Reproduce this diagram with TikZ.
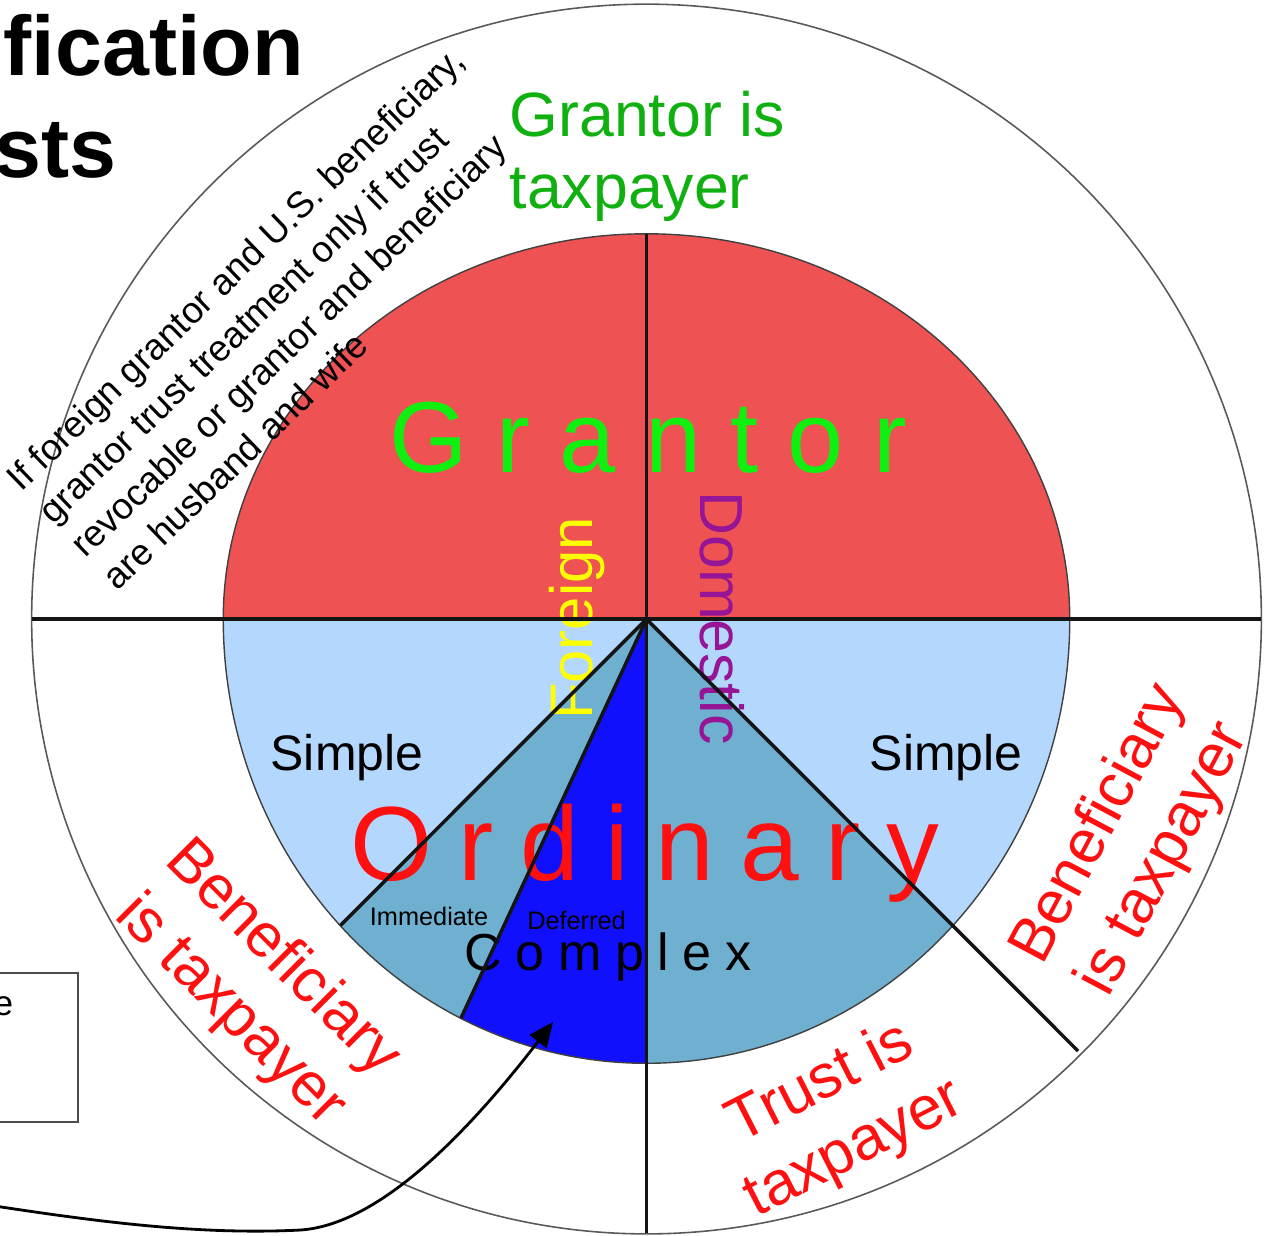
\documentclass[tikz,border=0pt]{standalone}
\usepackage{fontspec}
\setmainfont{Liberation Sans}
\usetikzlibrary{arrows.meta}
\definecolor{grantorred}{RGB}{239,82,82}
\definecolor{simpleblue}{RGB}{180,216,253}
\definecolor{complexteal}{RGB}{111,175,207}
\definecolor{deferblue}{RGB}{16,16,255}
\definecolor{brightgreen}{RGB}{16,240,16}
\definecolor{darkgreen}{RGB}{16,176,16}
\definecolor{txtred}{RGB}{255,16,16}
\definecolor{txtpurple}{RGB}{150,20,150}
\definecolor{txtyellow}{RGB}{255,255,0}
\tikzset{
  divider/.style={line width=1pt, draw=black!92},
  ringline/.style={draw=black!65, line width=0.45pt},
  edgeline/.style={draw=black!75, line width=0.4pt},
  redlabel/.style={text=txtred, font=\fontsize{17.5}{21}\selectfont, align=center, inner sep=0pt},
  plain/.style={inner sep=0pt},
}
\begin{document}
\begin{tikzpicture}[x=0.01cm,y=-0.01cm]
\useasboundingbox (0,0) rectangle (1268,1235);
\begin{scope}
\clip (0,0) rectangle (1268,1235);
% coordinates
\coordinate (C) at (646.5,619);
\coordinate (hl) at (32,619);
\coordinate (hr) at (1261,619);
\coordinate (vt) at (646.5,234);
\coordinate (vb) at (646.5,1233);
\coordinate (rd) at (1078,1051);
\coordinate (ld) at (340.5,925.3);
\coordinate (dd) at (461,1018);
% outer ring
\draw[ringline] (C) circle[radius=6.145cm];
% upper half (grantor)
\begin{scope}
  \clip (0,0) rectangle (1268,619);
  \fill[grantorred] (C) ellipse[x radius=4.23cm, y radius=3.85cm];
  \draw[edgeline] (C) ellipse[x radius=4.23cm, y radius=3.85cm];
\end{scope}
% lower half (ordinary)
\begin{scope}
  \clip (0,619) rectangle (1268,1235);
  \fill[simpleblue] (C) ellipse[x radius=4.23cm, y radius=4.44cm];
  \begin{scope}
    \clip (C) ellipse[x radius=4.23cm, y radius=4.44cm];
    \fill[complexteal] (C) -- (-100,1365) -- (1393,1365) -- cycle;
    \fill[deferblue] (C) -- (393.4,1162.8) -- (646.5,1300) -- cycle;
  \end{scope}
  \draw[edgeline] (C) ellipse[x radius=4.23cm, y radius=4.44cm];
\end{scope}
% title fragments
\node[plain, anchor=base west, font=\fontsize{24}{28}\selectfont\bfseries] (t1) at (3,75) {fication};
\node[plain, anchor=base west, font=\fontsize{24}{28}\selectfont\bfseries] (t2) at (-6,177) {sts};
% labels
\node[plain, anchor=west, text=darkgreen, align=left, font=\fontsize{17.8}{20.5}\selectfont] (gt) at (509,156) {Grantor is\\taxpayer};
\node[plain, rotate=44, align=left, font=\fontsize{10.45}{13.1}\selectfont] (note) at (283,318)
  {If foreign grantor and U.S. beneficiary,\\grantor trust treatment only if trust\\revocable or grantor and beneficiary\\are husband and wife};
\node[plain, anchor=base, text=brightgreen, font={\fontsize{28.7}{34}\selectfont\addfontfeatures{LetterSpace=29}}] (grantor) at (648,472) {Grantor};
\node[plain, anchor=base, text=txtyellow, rotate=90, font=\fontsize{17}{20}\selectfont] (foreign) at (592,618.5) {Foreign};
\node[plain, anchor=base, text=txtpurple, rotate=-90, font=\fontsize{17.3}{20}\selectfont] (domestic) at (700,618) {Domestic};
\node[plain, anchor=base, font=\fontsize{14.2}{16}\selectfont] (sl) at (347,770) {Simple};
\node[plain, anchor=base, font=\fontsize{14.2}{16}\selectfont] (sr) at (946,770) {Simple};
\node[plain, anchor=base, text=txtred, font={\fontsize{30}{34}\selectfont\addfontfeatures{LetterSpace=25}}] (ordinary) at (645,880) {Ordinary};
\node[plain, anchor=base, font=\fontsize{7.2}{9}\selectfont] (imm) at (429,925) {Immediate};
\node[plain, anchor=base, font=\fontsize{7.2}{9}\selectfont] (def) at (576.5,929) {Deferred};
\node[plain, anchor=base, font={\fontsize{14.8}{17}\selectfont\addfontfeatures{LetterSpace=26}}] (complex) at (608,970) {Complex};
\node[redlabel, rotate=-45] (benl) at (256,985) {Beneficiary\\is taxpayer};
\node[redlabel, rotate=62] (benr) at (1132,842) {Beneficiary\\is taxpayer};
\node[redlabel, rotate=27] (trust) at (838,1117) {Trust is\\taxpayer};
% dividers
\draw[divider] (hl) -- (hr);
\draw[divider] (vt) -- (vb);
\draw[divider] (C) -- (rd);
\draw[divider] (C) -- (ld);
\draw[divider] (C) -- (dd);
% box at left
\draw[draw=black!70, line width=0.6pt] (-20,973) rectangle (78,1122);
\node[plain, anchor=base east, font=\fontsize{10}{12}\selectfont] (boxtext) at (14,1015) {e};
% arrow
\coordinate (astart) at (-5,1206);
\coordinate (atip) at (553,1022);
\draw[line width=0.8pt, -{Triangle[length=7pt,width=6pt]}] (astart) .. controls (100,1222) and (200,1235) .. (300,1230) .. controls (380,1225) and (470,1130) .. (atip);
\end{scope}
\end{tikzpicture}
\end{document}
